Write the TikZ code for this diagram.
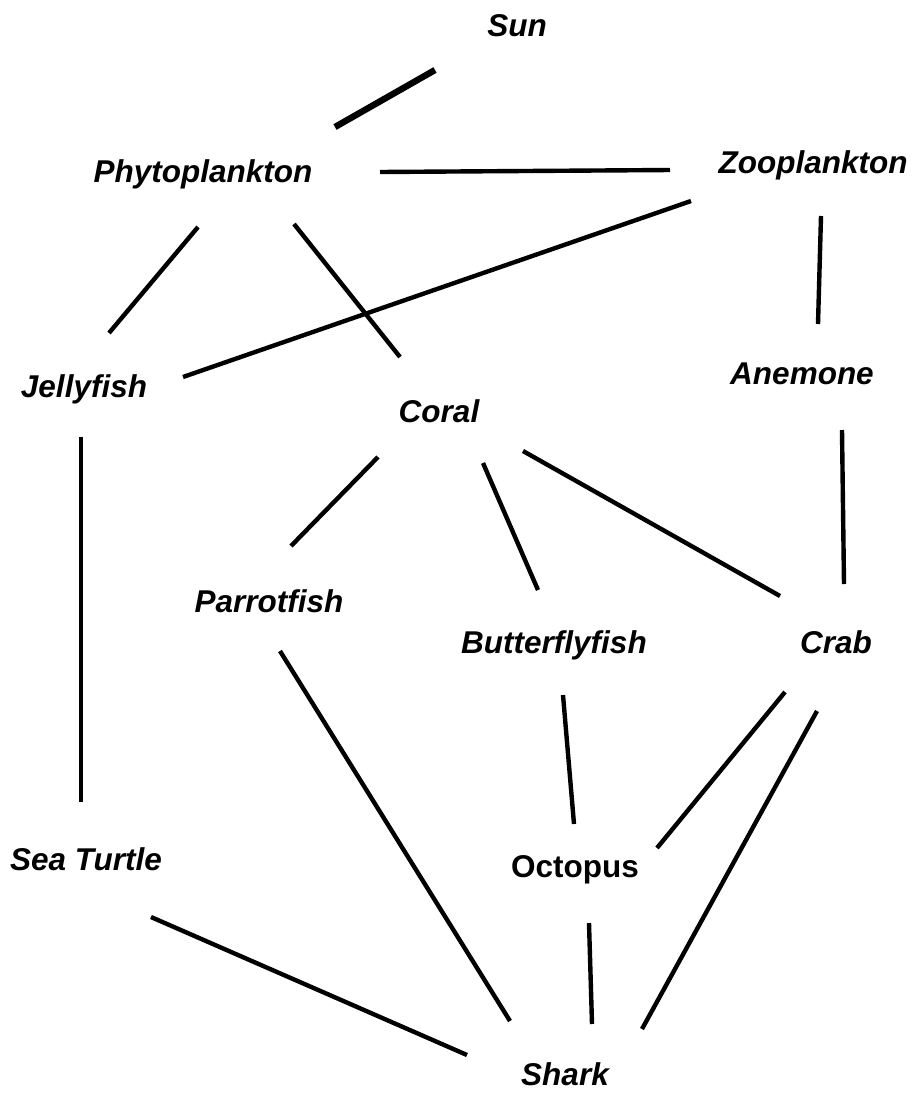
\documentclass[tikz,border=0pt]{standalone}
\usepackage{fontspec}
\setmainfont{Liberation Sans}
\usepackage{tikz}
\usetikzlibrary{calc}

\begin{document}
\begin{tikzpicture}[
  x=0.5pt, y=-0.5pt,
  % Node styles
  taxon/.style={font=\fontsize{15.75}{18}\selectfont\bfseries\itshape, anchor=base, inner sep=0pt},
  taxonup/.style={font=\fontsize{15.75}{18}\selectfont\bfseries, anchor=base, inner sep=0pt},
  % Edge styles
  link/.style={line width=2.2pt, draw=black},
  sunlink/.style={line width=3.2pt, draw=black}
]

% page frame (pixel grid of the reference)
\useasboundingbox (0,0) rectangle (916,1093);

% ------------------------------------------------------------
% Species (placed at text baseline)
% ------------------------------------------------------------
\node[taxon]   (sun)       at (517,36)   {Sun};
\node[taxon]   (phyto)     at (203,182)  {Phytoplankton};
\node[taxon]   (zoo)       at (813,173)  {Zooplankton};
\node[taxon]   (jelly)     at (84,397)   {Jellyfish};
\node[taxon]   (anemone)   at (802,384)  {Anemone};
\node[taxon]   (coral)     at (439,422)  {Coral};
\node[taxon]   (parrot)    at (269,612)  {Parrotfish};
\node[taxon]   (butterfly) at (554,653)  {Butterflyfish};
\node[taxon]   (crab)      at (836,653)  {Crab};
\node[taxon]   (turtle)    at (86,870)   {Sea Turtle};
\node[taxonup] (octopus)   at (575,877)  {Octopus};
\node[taxon]   (shark)     at (565,1085) {Shark};

% ------------------------------------------------------------
% Feeding links (offsets from each label's baseline)
% ------------------------------------------------------------
\draw[sunlink] ($(sun.base)+(-82,34)$) -- ($(phyto.base)+(132,-55)$);

% top layer
\draw[link] ($(phyto.base)+(177,-10)$) -- ($(zoo.base)+(-143,-3)$);
\draw[link] ($(zoo.base)+(-122,28)$)   -- ($(jelly.base)+(99,-20)$);
\draw[link] ($(zoo.base)+(8,43)$)      -- ($(anemone.base)+(16,-60)$);
\draw[link] ($(phyto.base)+(-5,45)$)   -- ($(jelly.base)+(25,-64)$);
\draw[link] ($(phyto.base)+(91,42)$)   -- ($(coral.base)+(-39,-65)$);

% middle layer
\draw[link] ($(jelly.base)+(-3,40)$)   -- ($(turtle.base)+(-5,-68)$);
\draw[link] ($(coral.base)+(-61,35)$)  -- ($(parrot.base)+(22,-66)$);
\draw[link] ($(coral.base)+(44,41)$)   -- ($(butterfly.base)+(-16,-63)$);
\draw[link] ($(coral.base)+(84,29)$)   -- ($(crab.base)+(-56,-57)$);
\draw[link] ($(anemone.base)+(40,46)$) -- ($(crab.base)+(8,-69)$);

% bottom layer
\draw[link] ($(parrot.base)+(11,39)$)   -- ($(shark.base)+(-55,-64)$);
\draw[link] ($(butterfly.base)+(9,42)$) -- ($(octopus.base)+(-1,-53)$);
\draw[link] ($(crab.base)+(-51,39)$)    -- ($(octopus.base)+(82,-29)$);
\draw[link] ($(crab.base)+(-19,58)$)    -- ($(shark.base)+(77,-56)$);
\draw[link] ($(turtle.base)+(65,47)$)   -- ($(shark.base)+(-98,-30)$);
\draw[link] ($(octopus.base)+(14,46)$)  -- ($(shark.base)+(27,-61)$);

\end{tikzpicture}
\end{document}
